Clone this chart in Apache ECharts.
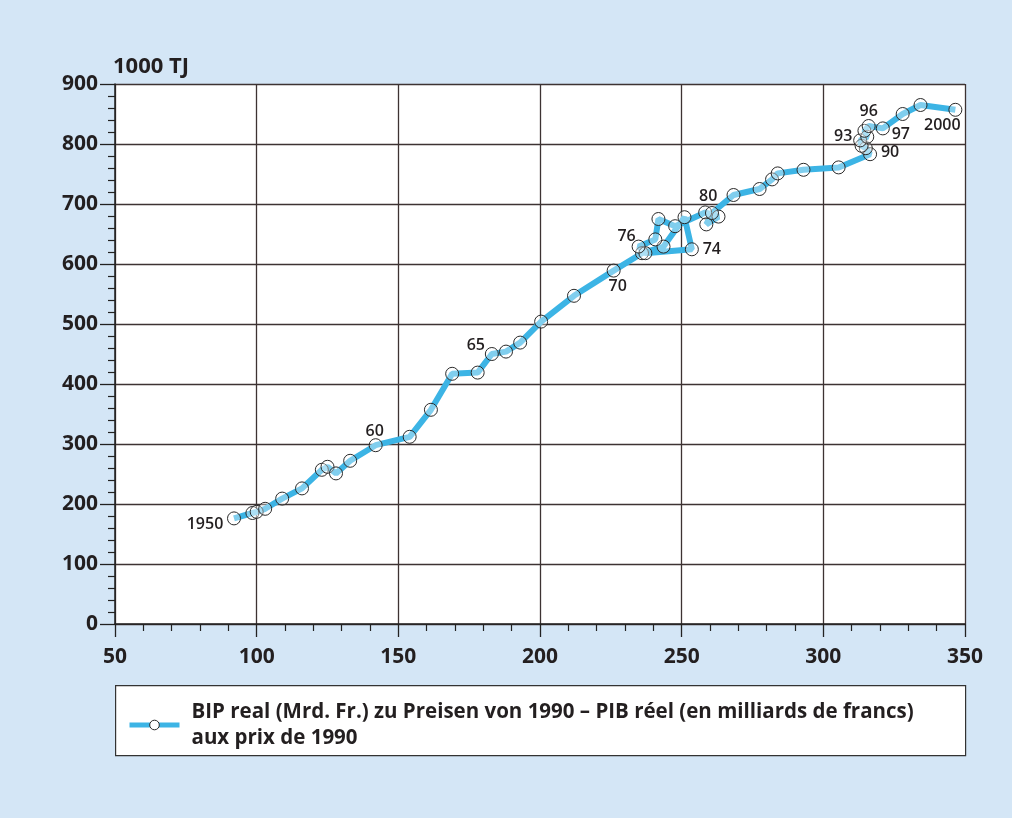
<!DOCTYPE html>
<html>
<head>
<meta charset="utf-8">
<script src="https://cdn.jsdelivr.net/npm/echarts@6/dist/echarts.min.js"></script>
<style>
html,body{margin:0;padding:0;background:#d4e6f6;}
#chart{width:1012px;height:818px;}
</style>
</head>
<body>
<div id="chart"></div>
<script>
// ---- Data ----
const years = [1950,1951,1952,1953,1954,1955,1956,1957,1958,1959,
               1960,1961,1962,1963,1964,1965,1966,1967,1968,1969,
               1970,1971,1972,1973,1974,1975,1976,1977,1978,1979,
               1980,1981,1982,1983,1984,1985,1986,1987,1988,1989,
               1990,1991,1992,1993,1994,1995,1996,1997,1998,1999,2000];
// BIP real (Mrd. Fr., Preise 1990)
const gdp = [92,98.5,100,103,109,116,123,125,128,133,
             142,154,161.5,169,178,183,188,193,200.4,212,
             226,236,243.6,251,253.6,237.2,234.8,240.7,241.8,247.7,
             258.3,263,258.7,260.7,268.3,277.5,281.9,283.9,293,305.4,
             316.5,315,313.5,313,315.5,314.5,316,321,328,334.3,346.6];
// Energieverbrauch (1000 TJ)
const energy = [176,185,187,192,209,226,257,262,251,272,
                298,312,357,417,419,450,454,469,504,547,
                589,618,629,678,624.5,618,629,641,675,663,
                686,679,666,685,715,725,741,751,757,761,
                783,793,797,806,812,822,830,826,850,865,857];
// year labels shown on the curve
const yearLabels = {1950:'1950',1960:'60',1965:'65',1970:'70',1974:'74',1976:'76',
                    1980:'80',1990:'90',1993:'93',1996:'96',1997:'97',2000:'2000'};
const xTicks = [50,100,150,200,250,300,350];
const yTicks = [0,100,200,300,400,500,600,700,800,900];
const seriesName = 'BIP real (Mrd. Fr.) zu Preisen von 1990 – PIB réel (en milliards de francs)\naux prix de 1990';
const yUnit = '1000 TJ';

// ---- Label placement (style) ----
const labelOffset = {1950:[-29,6],1960:[-1,-14],1965:[-16,-9],1970:[4,16],1974:[20,0],1976:[-12,-10],
                     1980:[3,-16],1990:[20,-2],1993:[-17,-4],1996:[0,-15],1997:[18,6],2000:[-13,16]};

const FONT = "'Open Sans', 'Noto Sans', sans-serif";
const TXT = '#231f20';
const dataPts = years.map((yr,i)=>{
  const item = {value:[gdp[i], energy[i]], name:String(yr)};
  if (yearLabels[yr]) {
    item.label = {show:true, formatter: yearLabels[yr], position:'inside',
                  offset: labelOffset[yr], fontSize:16, fontWeight:600,
                  color:TXT, fontFamily:FONT};
  }
  return item;
});

const chart = echarts.init(document.getElementById('chart'), null, {renderer:'canvas'});
chart.setOption({
  backgroundColor:'#d4e6f6',
  animation:false,
  graphic:[{type:'rect', left:115, top:685, z:1,
            shape:{width:850, height:70},
            style:{fill:'#ffffff', stroke:'#333', lineWidth:1.2}}],
  legend:{
    show:true, left:122, top:694, z:5,
    itemWidth:50, itemHeight:12,
    data:[{name:seriesName, lineStyle:{width:5, color:'#3cb4e5'},
           itemStyle:{color:'#ffffff', borderColor:'#2a2a2a', borderWidth:1}}],
    textStyle:{fontSize:20.5, fontWeight:'bold', lineHeight:26, color:TXT, fontFamily:FONT, padding:[0,0,0,7]}
  },
  grid:{left:115, right:47, top:84, bottom:194, show:true, backgroundColor:'#ffffff', borderWidth:0},
  xAxis:{
    type:'value', min:xTicks[0], max:xTicks[xTicks.length-1], interval:50,
    axisLine:{show:true, lineStyle:{color:'#222', width:1.5}},
    axisTick:{show:true, length:13, lineStyle:{color:'#222', width:1.3}},
    minorTick:{show:true, splitNumber:5, length:7, lineStyle:{color:'#222', width:1.2}},
    splitLine:{show:true, lineStyle:{color:'#3d3333', width:1.3}},
    axisLabel:{fontSize:21, fontWeight:'bold', color:TXT, margin:23, fontFamily:FONT}
  },
  yAxis:{
    type:'value', min:yTicks[0], max:yTicks[yTicks.length-1], interval:100,
    name:yUnit, nameLocation:'end', nameGap:6,
    nameTextStyle:{align:'left', fontSize:22, fontWeight:'bold', color:TXT, fontFamily:FONT, padding:[0,0,0,-2]},
    axisLine:{show:true, lineStyle:{color:'#222', width:1.5}},
    axisTick:{show:true, length:15, lineStyle:{color:'#222', width:1.3}},
    minorTick:{show:true, splitNumber:5, length:7, lineStyle:{color:'#222', width:1.2}},
    splitLine:{show:true, lineStyle:{color:'#3d3333', width:1.3}},
    axisLabel:{fontSize:21, fontWeight:'bold', color:TXT, margin:17, fontFamily:FONT}
  },
  series:[{
    name:seriesName, type:'line', data:dataPts,
    symbol:'circle', symbolSize:13, showAllSymbol:true,
    lineStyle:{color:'#3cb4e5', width:6},
    itemStyle:{color:'rgba(255,255,255,0.35)', borderColor:'#2a2a2a', borderWidth:1},
    label:{show:false},
    z:3
  }]
});
</script>
</body>
</html>
